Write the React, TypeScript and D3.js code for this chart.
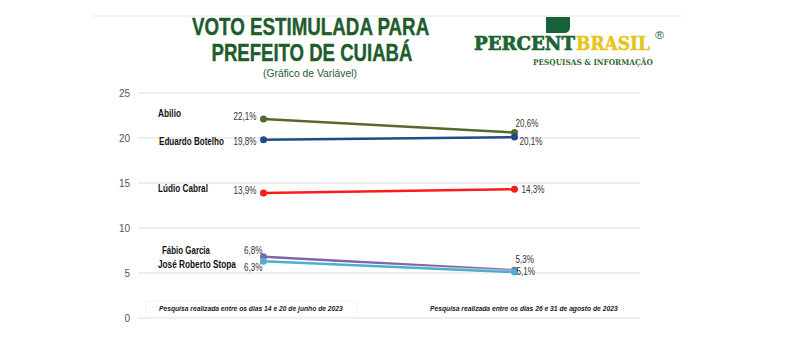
import React from "react";
import * as d3 from "d3";

const candidates = ["Abilio", "Eduardo Botelho", "Lúdio Cabral", "Fábio Garcia", "José Roberto Stopa"];
const juneValues = [22.1, 19.8, 13.9, 6.8, 6.3];
const augustValues = [20.6, 20.1, 14.3, 5.3, 5.1];
const juneLabels = ["22,1%", "19,8%", "13,9%", "6,8%", "6,3%"];
const augustLabels = ["20,6%", "20,1%", "14,3%", "5,3%", "5,1%"];
const periods = ["jun", "ago"];
const periodNotes = [
  "Pesquisa realizada entre os dias 14 e 20 de junho de 2023",
  "Pesquisa realizada entre os dias 26 e 31 de agosto de 2023",
];
const yTicks = [0, 5, 10, 15, 20, 25];

const colors = ["#56692c", "#1f4b8a", "#ff1a1a", "#8264a8", "#4bb0cc"];
// label offsets / widths (style only)
const nameDx = [0, 1, 0, 4, 0];
const nameDy = [-2, 5, -1, -3, 7];
const nameW = [23, 65, 50, 48, 78];
const leftDy = [1, 5, 1, -3, 10];
const leftEnd = [-7, -7, -7, -1, -1];
const rightDx = [1, 5, 7, 1, 2];
const rightDy = [-6, 8, 4, -7, 3];

const W = 800;
const H = 355;
const green = "#1e5c2c";
const SANS = "'Liberation Sans', Arial, sans-serif";
const SERIF = "'DejaVu Serif', 'Liberation Serif', serif";

let ctx: CanvasRenderingContext2D | null = null;
function measure(text: string, size: number, weight: string, style: string, family: string) {
  if (!ctx) ctx = document.createElement("canvas").getContext("2d");
  if (!ctx) return text.length * size * 0.55;
  ctx.font = `${style} ${weight} ${size}px ${family}`;
  return ctx.measureText(text).width;
}

type NTProps = {
  x: number; y: number; width: number; text: string; size: number;
  weight?: string; italic?: boolean; family?: string; fill: string;
  anchor?: "start" | "middle" | "end"; stroke?: number;
};
function NText({ x, y, width, text, size, weight = "normal", italic = false, family = SANS, fill, anchor = "start", stroke = 0 }: NTProps) {
  const natural = measure(text, size, weight, italic ? "italic" : "normal", family);
  const sx = width / natural;
  const left = anchor === "start" ? x : anchor === "middle" ? x - width / 2 : x - width;
  return (
    <text transform={`translate(${left},${y}) scale(${sx},1)`} x={0} y={0} fontSize={size} fontWeight={weight}
      fontStyle={italic ? "italic" : "normal"} fontFamily={family} fill={fill}
      stroke={stroke ? fill : undefined} strokeWidth={stroke || undefined}>
      {text}
    </text>
  );
}

export default function App() {
  const x = d3.scalePoint<string>().domain(periods).range([138, 640]).padding(0.5);
  const y = d3.scaleLinear().domain([0, 25]).range([318, 93]);
  const line = d3
    .line<number>()
    .x((_, i) => x(periods[i]) as number)
    .y((d) => y(d));
  const series = candidates.map((c, i) => ({ name: c, values: [juneValues[i], augustValues[i]], i }));
  const x0 = x(periods[0]) as number;
  const x1 = x(periods[1]) as number;
  const labW = (s: string) => (s.length >= 5 ? 23 : 18.5);

  return (
    <div style={{ position: "absolute", left: 0, top: 0 }}>
      <svg width={W} height={H} style={{ display: "block", background: "#fff" }} fontFamily={SANS}>
        <line x1={92} x2={681} y1={16} y2={16} stroke="#eeeeee" strokeWidth={1.5} />
        {/* Title */}
        <NText x={311} y={35} anchor="middle" width={238} size={24} weight="bold" fill={green} stroke={0.4} text="VOTO ESTIMULADA PARA" />
        <NText x={312} y={61} anchor="middle" width={201} size={24} weight="bold" fill={green} stroke={0.4} text="PREFEITO DE CUIABÁ" />
        <NText x={310} y={77} anchor="middle" width={94} size={11} fill={green} text="(Gráfico de Variável)" />

        {/* Logo */}
        <path d="M546,17 H570 V27 Q570,33 564,33 H546 Z" fill="#17603a" />
        <NText x={474} y={50} width={101} size={19} weight="bold" family={SERIF} fill="#1c6531" stroke={0.7} text="PERCENT" />
        <NText x={576} y={50} width={74} size={19} weight="bold" family={SERIF} fill="#e6c41c" stroke={0.5} text="BRASIL" />
        <NText x={655} y={39} width={9} size={10} fill="#1c6531" text="®" />
        <NText x={533} y={65} width={120} size={8} weight="bold" family={SERIF} fill="#2b6a2b" text="PESQUISAS & INFORMAÇÃO" />

        {/* Grid */}
        {yTicks.map((t) => (
          <g key={t}>
            <line x1={138} x2={640} y1={y(t)} y2={y(t)} stroke="#dddddd" strokeWidth={1} />
            <text x={130} y={y(t) + 3.5} textAnchor="end" fontSize={10} fill="#555">{t}</text>
          </g>
        ))}

        {/* Notes */}
        <rect x={146} y={301} width={211} height={16} fill="none" stroke="#f3f3f3" />
        <NText x={159} y={311} width={184} size={8} italic weight="bold" fill="#222" text={periodNotes[0]} />
        <NText x={430} y={311} width={188} size={8} italic weight="bold" fill="#222" text={periodNotes[1]} />

        {/* Lines */}
        {series.map((s) => (
          <g key={s.name}>
            <path d={line(s.values) || ""} fill="none" stroke="#ffffff" strokeOpacity={0.6} strokeWidth={4.5} />
            <path d={line(s.values) || ""} fill="none" stroke={colors[s.i]} strokeWidth={2.5} />
            {s.values.map((v, j) => (
              <circle key={j} cx={x(periods[j]) as number} cy={y(v)} r={3.5} fill={colors[s.i]} />
            ))}
          </g>
        ))}

        {/* Labels */}
        {series.map((s) => (
          <g key={"l" + s.name}>
            <NText x={158 + nameDx[s.i]} y={y(s.values[0]) + nameDy[s.i]} width={nameW[s.i]} size={10} weight="bold" fill="#111" text={s.name} />
            <NText x={x0 + leftEnd[s.i]} anchor="end" y={y(s.values[0]) + leftDy[s.i]} width={labW(juneLabels[s.i])} size={10} fill="#333" text={juneLabels[s.i]} />
            <NText x={x1 + rightDx[s.i]} y={y(s.values[1]) + rightDy[s.i]} width={labW(augustLabels[s.i])} size={10} fill="#333" text={augustLabels[s.i]} />
          </g>
        ))}
      </svg>
    </div>
  );
}
